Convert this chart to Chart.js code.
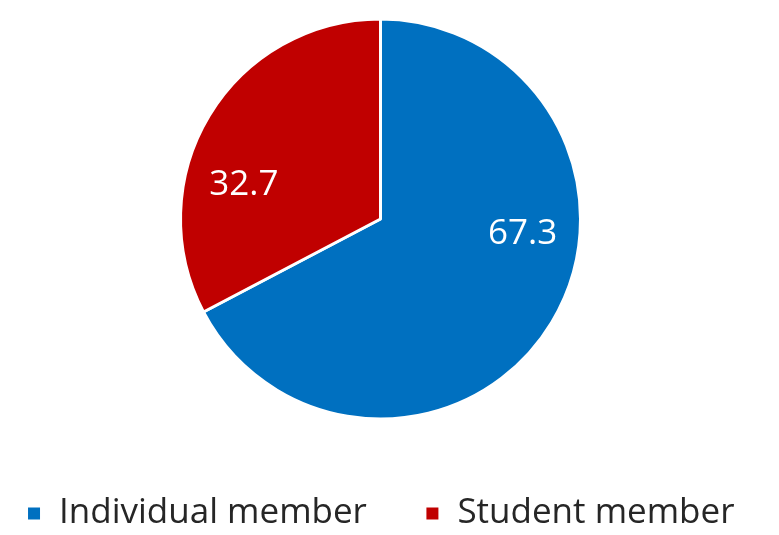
<!DOCTYPE html>
<html>
<head>
<meta charset="utf-8">
<script src="https://cdn.jsdelivr.net/npm/chart.js@4.4.1/dist/chart.umd.min.js"></script>
<style>
  html, body { margin: 0; padding: 0; background: #ffffff; }
  #wrap { width: 779px; height: 535px; position: relative; }
</style>
</head>
<body>
<div id="wrap"><canvas id="c"></canvas></div>
<script>
const categories = ["Individual member", "Student member"];
const shares = [67.3, 32.7];
const valueLabels = ["67.3", "32.7"];

const sliceColors = ["#0070C0", "#C00000"];

const sliceLabels = {
  id: 'sliceLabels',
  afterDatasetsDraw(chart, args, opts) {
    const ctx = chart.ctx;
    const meta = chart.getDatasetMeta(0);
    ctx.save();
    ctx.fillStyle = opts.color;
    ctx.font = opts.font;
    ctx.textAlign = 'center';
    ctx.textBaseline = 'middle';
    meta.data.forEach((arc, i) => {
      const p = arc.getProps(['x', 'y', 'startAngle', 'endAngle', 'outerRadius'], true);
      const place = opts.placement[i];
      const a = (p.startAngle + p.endAngle) / 2 + place.shift * Math.PI / 180;
      const r = p.outerRadius * place.frac;
      ctx.fillText(valueLabels[i], p.x + Math.cos(a) * r, p.y + Math.sin(a) * r);
    });
    ctx.restore();
  }
};

// keep the legend on a single row (no wrapping)
const singleRowLegend = {
  id: 'singleRowLegend',
  afterInit(chart) {
    const lg = chart.legend;
    if (!lg || lg._singleRowPatched) return;
    const origFit = lg.fit;
    lg.fit = function () {
      const mw = this.maxWidth;
      this.maxWidth = 5000;
      origFit.call(this);
      this.maxWidth = mw;
      this.width = Math.min(this.width, mw);
    };
    const origDraw = lg.draw;
    lg.draw = function () {
      const l = this.left, r = this.right;
      this.left = l - 300;
      this.right = r + 300;
      origDraw.call(this);
      this.left = l;
      this.right = r;
    };
    lg._singleRowPatched = true;
  }
};

new Chart(document.getElementById('c'), {
  type: 'pie',
  data: {
    labels: categories,
    datasets: [{
      data: shares,
      backgroundColor: sliceColors,
      borderColor: '#ffffff',
      borderWidth: 3,
      radius: 200
    }]
  },
  options: {
    responsive: true,
    maintainAspectRatio: false,
    animation: false,
    layout: { padding: { top: -12, bottom: -6, left: 0, right: 18 } },
    plugins: {
      legend: {
        position: 'bottom',
        labels: {
          boxWidth: 15,
          boxHeight: 15,
          padding: 58,
          color: '#262626',
          font: { family: 'Open Sans', size: 35 }
        }
      },
      tooltip: { enabled: false },
      sliceLabels: {
        color: '#ffffff',
        font: '35px "Open Sans"',
        placement: [{ frac: 0.715, shift: -25 }, { frac: 0.705, shift: -17 }]
      }
    }
  },
  plugins: [sliceLabels, singleRowLegend]
});
</script>
</body>
</html>
